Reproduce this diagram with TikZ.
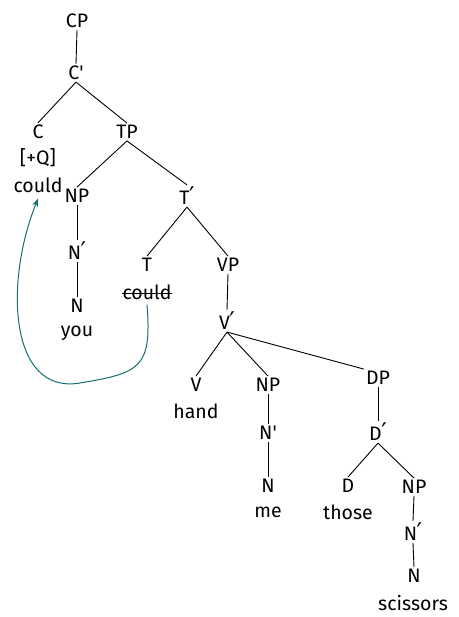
\documentclass[tikz,border=0pt]{standalone}
\usepackage{fontspec}
\setmainfont{Fira Sans}
\newfontfamily\primefont{DejaVu Sans}
\newcommand{\pr}{{\primefont\kern-0.5pt\scalebox{1.25}{′}}}
\newcommand{\ap}{\textquotesingle}
\usetikzlibrary{arrows.meta}
\definecolor{arrowteal}{RGB}{22,110,110}
\tikzset{
  lbl/.style={inner sep=2pt, font=\fontsize{19.5}{22}\selectfont},
  edge/.style={draw=black, line width=0.9pt},
  move/.style={draw=arrowteal, line width=1pt, -{Stealth[length=8pt,width=6pt]}}
}
\begin{document}
\begin{tikzpicture}[x=1pt,y=-1pt]
\useasboundingbox (0,0) rectangle (458,617);
% nodes
\node[lbl] (CP) at (77,21) {CP};
\node[lbl] (Cbar) at (76,73) {C\ap};
\node[lbl] (C) at (38,132) {C};
\node[lbl] (Q) at (38,158) {[+Q]};
\node[lbl] (couldC) at (38,185) {could};
\node[lbl] (TP) at (127,132) {TP};
\node[lbl] (NPa) at (77,196) {NP};
\node[lbl] (Nbara) at (77,251) {N\pr};
\node[lbl] (Na) at (77,306) {N};
\node[lbl] (you) at (77,333) {you};
\node[lbl] (Tbar) at (187,196) {T\pr};
\node[lbl] (T) at (147,265) {T};
\node[lbl,inner xsep=0pt] (couldT) at (147,292) {could};
\node[lbl] (VP) at (228,265) {VP};
\node[lbl] (Vbar) at (227,321) {V\pr};
\node[lbl] (V) at (196,385) {V};
\node[lbl] (hand) at (196,411) {hand};
\node[lbl] (NPb) at (268,385) {NP};
\node[lbl] (Nbarb) at (268,433) {N\ap};
\node[lbl] (Nb) at (268,486) {N};
\node[lbl] (me) at (268,512) {me};
\node[lbl] (DP) at (378,378) {DP};
\node[lbl] (Dbar) at (378,432) {D\pr};
\node[lbl] (D) at (348,486) {D};
\node[lbl] (those) at (348,512) {those};
\node[lbl] (NPc) at (414,487) {NP};
\node[lbl] (Nbarc) at (413,532) {N\pr};
\node[lbl] (Nc) at (414,576) {N};
\node[lbl] (scissors) at (413,603) {scissors};
% edges
\path[edge] (CP.south) -- (Cbar.north);
\path[edge] (Cbar.south) -- (C.north);
\path[edge] (Cbar.south) -- (TP.north);
\path[edge] (TP.south) -- (NPa.north);
\path[edge] (TP.south) -- (Tbar.north);
\path[edge] (NPa.south) -- (Nbara.north);
\path[edge] (Nbara.south) -- (Na.north);
\path[edge] (Tbar.south) -- (T.north);
\path[edge] (Tbar.south) -- (VP.north);
\path[edge] (VP.south) -- (Vbar.north);
\path[edge] (Vbar.south) -- (V.north);
\path[edge] (Vbar.south) -- (NPb.north);
\path[edge] (Vbar.south) -- (DP.north west);
\path[edge] (NPb.south) -- (Nbarb.north);
\path[edge] (Nbarb.south) -- (Nb.north);
\path[edge] (DP.south) -- (Dbar.north);
\path[edge] (Dbar.south) -- (D.north);
\path[edge] (Dbar.south) -- (NPc.north);
\path[edge] (NPc.south) -- (Nbarc.north);
\path[edge] (Nbarc.south) -- (Nc.north);
% strike-through
\draw[line width=0.9pt] ([yshift=-1.5pt]couldT.west) -- ([yshift=-1.5pt]couldT.east);
% movement arrow
\coordinate (bend) at (80,383);
\path[move] ([yshift=-3pt]couldT.south) .. controls (152,368) and (140,373) .. (bend)
  .. controls (8,395) and (5,280) .. ([yshift=-4pt]couldC.south);
\end{tikzpicture}
\end{document}
